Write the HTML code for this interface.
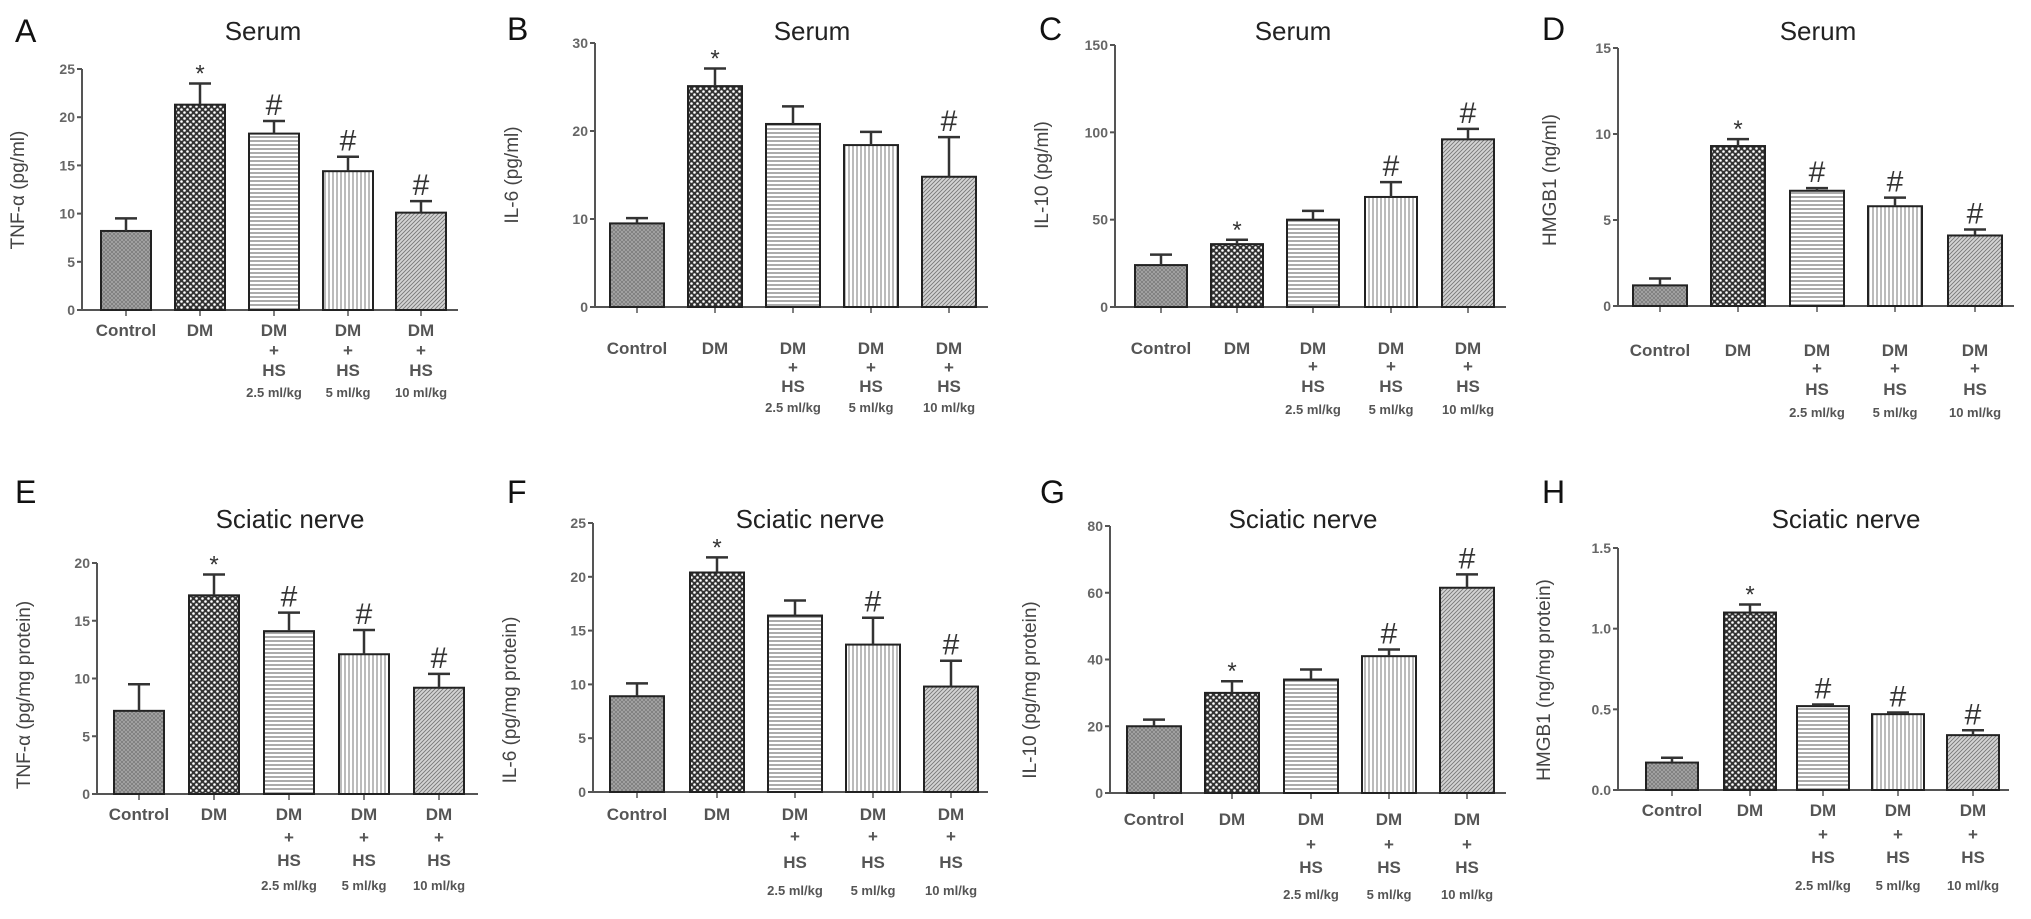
<!DOCTYPE html>
<html><head><meta charset="utf-8"><style>
body{margin:0;background:#fff;width:2031px;height:919px;overflow:hidden}
svg{display:block}
text{font-family:"Liberation Sans",sans-serif}
</style></head><body>
<svg id="fig" width="2031" height="919" viewBox="0 0 2031 919" xmlns="http://www.w3.org/2000/svg">
<defs>
<pattern id="pCtrl" width="4" height="4" patternUnits="userSpaceOnUse"><rect width="4" height="4" fill="#a8a8a8"/><path d="M0 0L4 4M4 0L0 4" stroke="#7a7a7a" stroke-width="0.8"/></pattern>
<pattern id="pDM" width="6" height="6" patternUnits="userSpaceOnUse"><rect width="6" height="6" fill="#333"/><circle cx="1.5" cy="1.5" r="1.3" fill="#fff"/><circle cx="4.5" cy="4.5" r="1.3" fill="#fff"/></pattern>
<pattern id="pH" width="4" height="4" patternUnits="userSpaceOnUse"><rect width="4" height="4" fill="#fff"/><line x1="0" y1="1" x2="4" y2="1" stroke="#666" stroke-width="1.1"/></pattern>
<pattern id="pV" width="4" height="4" patternUnits="userSpaceOnUse"><rect width="4" height="4" fill="#fff"/><line x1="1" y1="0" x2="1" y2="4" stroke="#777" stroke-width="1"/></pattern>
<pattern id="pD" width="4" height="4" patternUnits="userSpaceOnUse"><rect width="4" height="4" fill="#d4d4d4"/><path d="M0 4L4 0M-1 1L1 -1M3 5L5 3" stroke="#777" stroke-width="0.9"/></pattern>
</defs>
</svg>
<script>
const categories=["Control","DM","DM + HS 2.5 ml/kg","DM + HS 5 ml/kg","DM + HS 10 ml/kg"];
const meansA=[8.2,21.3,18.3,14.4,10.1]; const errA=[1.3,2.2,1.3,1.5,1.2]; const markA=["","*","#","#","#"]; const ticksA=[0,5,10,15,20,25];
const meansB=[9.5,25.1,20.8,18.4,14.8]; const errB=[0.6,2.0,2.0,1.5,4.5]; const markB=["","*","","","#"]; const ticksB=[0,10,20,30];
const meansC=[24,36,50,63,96]; const errC=[6,2.5,5,8.5,6]; const markC=["","*","","#","#"]; const ticksC=[0,50,100,150];
const meansD=[1.2,9.3,6.7,5.8,4.1]; const errD=[0.4,0.4,0.15,0.5,0.35]; const markD=["","*","#","#","#"]; const ticksD=[0,5,10,15];
const meansE=[7.2,17.2,14.1,12.1,9.2]; const errE=[2.3,1.8,1.6,2.1,1.2]; const markE=["","*","#","#","#"]; const ticksE=[0,5,10,15,20];
const meansF=[8.9,20.4,16.4,13.7,9.8]; const errF=[1.2,1.4,1.4,2.5,2.4]; const markF=["","*","","#","#"]; const ticksF=[0,5,10,15,20,25];
const meansG=[20,30,34,41,61.5]; const errG=[2,3.5,3,2,4]; const markG=["","*","","#","#"]; const ticksG=[0,20,40,60,80];
const meansH=[0.17,1.10,0.52,0.47,0.34]; const errH=[0.03,0.05,0.01,0.01,0.03]; const markH=["","*","#","#","#"]; const ticksH=["0.0","0.5","1.0","1.5"];
const tickFmtH=ticksH.map(Number);

const panels=[
 {id:"A",title:"Serum",yt:"TNF-α (pg/ml)",m:meansA,e:errA,k:markA,t:ticksA,ax:82,top:69,bot:310,xe:458,cx:[126,200,274,348,421],bw:50,lx:15,ly:42,tx:263,ty:40,ytx:24,yty:190,ly1:336,ly2:356,ly3:376,ly4:397},
 {id:"B",title:"Serum",yt:"IL-6 (pg/ml)",m:meansB,e:errB,k:markB,t:ticksB,ax:595,top:43,bot:307,xe:988,cx:[637,715,793,871,949],bw:54,lx:507,ly:40,tx:812,ty:40,ytx:518,yty:175,ly1:354,ly2:373,ly3:392,ly4:412},
 {id:"C",title:"Serum",yt:"IL-10 (pg/ml)",m:meansC,e:errC,k:markC,t:ticksC,ax:1115,top:45,bot:307,xe:1506,cx:[1161,1237,1313,1391,1468],bw:52,lx:1039,ly:40,tx:1293,ty:40,ytx:1048,yty:175,ly1:354,ly2:372,ly3:392,ly4:414},
 {id:"D",title:"Serum",yt:"HMGB1 (ng/ml)",m:meansD,e:errD,k:markD,t:ticksD,ax:1618,top:48,bot:306,xe:2014,cx:[1660,1738,1817,1895,1975],bw:54,lx:1542,ly:40,tx:1818,ty:40,ytx:1556,yty:180,ly1:356,ly2:374,ly3:395,ly4:417},
 {id:"E",title:"Sciatic nerve",yt:"TNF-α (pg/mg protein)",m:meansE,e:errE,k:markE,t:ticksE,ax:97,top:563,bot:794,xe:478,cx:[139,214,289,364,439],bw:50,lx:15,ly:503,tx:290,ty:528,ytx:30,yty:695,ly1:820,ly2:843,ly3:866,ly4:890},
 {id:"F",title:"Sciatic nerve",yt:"IL-6 (pg/mg protein)",m:meansF,e:errF,k:markF,t:ticksF,ax:593,top:523,bot:792,xe:988,cx:[637,717,795,873,951],bw:54,lx:507,ly:503,tx:810,ty:528,ytx:516,yty:700,ly1:820,ly2:842,ly3:868,ly4:895},
 {id:"G",title:"Sciatic nerve",yt:"IL-10 (pg/mg protein)",m:meansG,e:errG,k:markG,t:ticksG,ax:1110,top:526,bot:793,xe:1506,cx:[1154,1232,1311,1389,1467],bw:54,lx:1040,ly:503,tx:1303,ty:528,ytx:1036,yty:690,ly1:825,ly2:850,ly3:873,ly4:899},
 {id:"H",title:"Sciatic nerve",yt:"HMGB1 (ng/mg protein)",m:meansH,e:errH,k:markH,t:tickFmtH,tl:ticksH,ax:1618,top:548,bot:790,xe:2009,cx:[1672,1750,1823,1898,1973],bw:52,lx:1542,ly:503,tx:1846,ty:528,ytx:1550,yty:680,ly1:816,ly2:840,ly3:863,ly4:890}
];
const fills=["url(#pCtrl)","url(#pDM)","url(#pH)","url(#pV)","url(#pD)"];
const NS="http://www.w3.org/2000/svg";
const svg=document.getElementById("fig");
function mk(tag,attrs,parent,txt){const el=document.createElementNS(NS,tag);for(const k in attrs)el.setAttribute(k,attrs[k]);if(txt!==undefined)el.textContent=txt;parent.appendChild(el);return el;}

panels.forEach(p=>{
 const g=mk("g",{},svg);
 
 
 const ymax=p.t[p.t.length-1];
 const y=v=>p.bot-(v/ymax)*(p.bot-p.top);
 const lt=mk("text",{x:p.lx,y:p.ly,"font-size":32,fill:"#111"},g,p.id);
 
 
 const tt=mk("text",{x:p.tx,y:p.ty,"font-size":26,"text-anchor":"middle",fill:"#222"},g,p.title);
 
 
 const yl=mk("text",{x:0,y:0,"font-size":19,"text-anchor":"middle",fill:"#444",transform:`translate(${p.ytx} ${p.yty}) rotate(-90)`},g,p.yt);
 
 
 const ya=mk("line",{x1:p.ax,y1:p.top,x2:p.ax,y2:p.bot,stroke:"#555","stroke-width":2},g);
 
 
 const xa=mk("line",{x1:p.ax,y1:p.bot,x2:p.xe,y2:p.bot,stroke:"#555","stroke-width":2},g);
 
 
 p.t.forEach((tv,i)=>{
  const yy=y(tv);
  mk("line",{x1:p.ax-5,y1:yy,x2:p.ax,y2:yy,stroke:"#555","stroke-width":2},g);
  const tl=mk("text",{x:p.ax-7,y:yy+5,"font-size":14,"font-weight":"bold","text-anchor":"end",fill:"#666"},g,p.tl?p.tl[i]:tv);
  
  
 });
 p.m.forEach((v,i)=>{
  const cx=p.cx[i],top=y(v),eTop=y(v+p.e[i]);
  mk("line",{x1:cx,y1:p.bot,x2:cx,y2:p.bot+6,stroke:"#555","stroke-width":1.5},g);
  const r=mk("rect",{x:cx-p.bw/2,y:top,width:p.bw,height:p.bot-top,fill:fills[i],stroke:"#222","stroke-width":2},g);
  
  
  const eb=mk("path",{d:`M${cx} ${top}V${eTop}M${cx-11} ${eTop}H${cx+11}`,stroke:"#333","stroke-width":2.5,fill:"none"},g);
  
  
  if(p.k[i]){
   const mkr=mk("text",{x:cx,y:eTop-(p.k[i]=="*"?2:6),"font-size":p.k[i]=="*"?24:30,"text-anchor":"middle",fill:"#333","font-family":"Liberation Serif, serif"},g,p.k[i]);
   
   
  }
  const lines=i<2?[[categories[i],p.ly1,17]]:[["DM",p.ly1,17],["+",p.ly2,17],["HS",p.ly3,17],[categories[i].split("HS ")[1],p.ly4,13]];
  lines.forEach(L=>{
   const xl=mk("text",{x:cx,y:L[1],"font-size":L[2],"font-weight":"bold","text-anchor":"middle",fill:"#555"},g,L[0]);
   
   
  });
 });
});
</script>
</body></html>
